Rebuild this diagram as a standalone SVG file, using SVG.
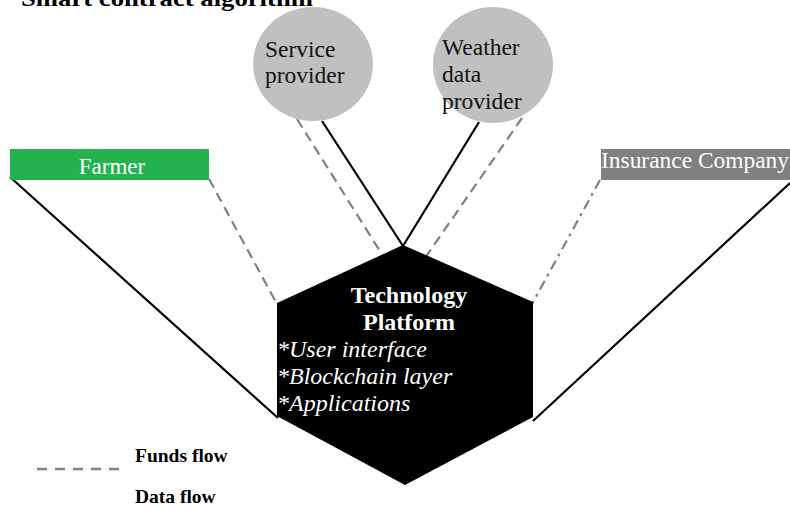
<svg xmlns="http://www.w3.org/2000/svg" width="790" height="506" viewBox="0 0 790 506">
  <style>
    .serif { font-family: "Liberation Serif", "Times New Roman", serif; }
    .funds { stroke: #000; stroke-width: 2.2; fill: none; }
    .data { stroke: #808080; stroke-width: 2.2; fill: none; stroke-dasharray: 10 6; }
    .dashdot { stroke: #808080; stroke-width: 2.2; fill: none; stroke-dasharray: 10 5 3 5; }
    .bubble { fill: #c0c0c0; }
    .bubble-text { font-size: 23.5px; fill: #111; }
    .box-text { font-size: 23px; fill: #fff; }
    .hex-title { font-size: 24px; font-weight: bold; fill: #fff; }
    .hex-item { font-size: 24px; font-style: italic; fill: #fff; }
    .legend { font-size: 19.5px; font-weight: bold; fill: #000; }
  </style>

  <!-- heading, partly clipped by the top edge -->
  <text class="serif" x="21" y="6" font-size="24" font-weight="bold" fill="#000" textLength="292" lengthAdjust="spacingAndGlyphs">Smart contract algorithm</text>

  <!-- connectors: black = funds, grey dashed = data -->
  <g id="connectors">
    <line class="funds" x1="10" y1="177" x2="278" y2="418"/>
    <line class="data" x1="209" y1="179" x2="277" y2="304"/>
    <line class="data" x1="297" y1="119" x2="383" y2="256"/>
    <line class="funds" x1="322" y1="121" x2="403" y2="246"/>
    <line class="funds" x1="479" y1="122" x2="403" y2="246"/>
    <line class="data" x1="522" y1="118" x2="425" y2="258"/>
    <line class="dashdot" x1="600" y1="180" x2="532" y2="304"/>
    <line class="funds" x1="790" y1="183" x2="533" y2="421"/>
  </g>

  <g id="farmer">
    <rect x="10" y="149" width="199" height="31" fill="#24b24f"/>
    <text class="serif box-text" x="112" y="174" text-anchor="middle">Farmer</text>
  </g>

  <g id="insurance-company">
    <rect x="601" y="149" width="189" height="31" fill="#808080"/>
    <text class="serif box-text" x="601" y="168" fill="#f2f2f2" textLength="188" lengthAdjust="spacingAndGlyphs">Insurance Company</text>
  </g>

  <g id="service-provider">
    <ellipse class="bubble" cx="313" cy="64" rx="60" ry="57"/>
    <text class="serif bubble-text" x="265" y="57">Service</text>
    <text class="serif bubble-text" x="265" y="83">provider</text>
  </g>

  <g id="weather-data-provider">
    <ellipse class="bubble" cx="493" cy="65" rx="60" ry="58"/>
    <text class="serif bubble-text" x="442" y="55">Weather</text>
    <text class="serif bubble-text" x="442" y="82">data</text>
    <text class="serif bubble-text" x="442" y="109">provider</text>
  </g>

  <g id="technology-platform">
    <polygon points="403,245 533,302 533,417 405,485 277,416 277,303" fill="#000"/>
    <text class="serif hex-title" x="409" y="303" text-anchor="middle">Technology</text>
    <text class="serif hex-title" x="409" y="330" text-anchor="middle">Platform</text>
    <text class="serif hex-item" x="277" y="357">*User interface</text>
    <text class="serif hex-item" x="277" y="384">*Blockchain layer</text>
    <text class="serif hex-item" x="277" y="411">*Applications</text>
  </g>

  <g id="legend">
    <line x1="37" y1="469" x2="126" y2="469" stroke="#808080" stroke-width="2.5" stroke-dasharray="10 8"/>
    <text class="serif legend" x="135" y="462">Funds flow</text>
    <text class="serif legend" x="135" y="503">Data flow</text>
  </g>
</svg>
